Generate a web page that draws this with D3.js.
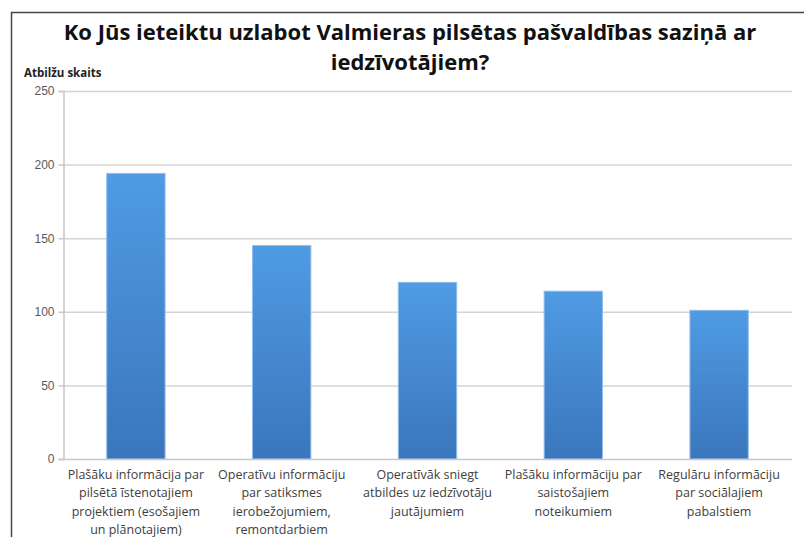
<!DOCTYPE html>
<html>
<head>
<meta charset="utf-8">
<script src="https://cdn.jsdelivr.net/npm/d3@7"></script>
<style>
  body { margin: 0; background: #fff; }
  svg { display: block; font-family: "Open Sans", "Noto Sans", sans-serif; }
</style>
</head>
<body>
<svg id="chart" width="804" height="537"></svg>
<script>
// dati
const categories = [
    ["Plašāku informācija par", "pilsētā īstenotajiem", "projektiem (esošajiem", "un plānotajiem)"],
    ["Operatīvu informāciju", "par satiksmes", "ierobežojumiem,", "remontdarbiem"],
    ["Operatīvāk sniegt", "atbildes uz iedzīvotāju", "jautājumiem"],
    ["Plašāku informāciju par", "saistošajiem", "noteikumiem"],
    ["Regulāru informāciju", "par sociālajiem", "pabalstiem"]
];
const values = [194, 145, 120, 114, 101];
const yTicks = [0, 50, 100, 150, 200, 250];
const titleLines = ["Ko Jūs ieteiktu uzlabot Valmieras pilsētas pašvaldības saziņā ar", "iedzīvotājiem?"];
const yTitle = "Atbilžu skaits";

const svg = d3.select("#chart");
const plotLeft = 63, plotRight = 792, plotTop = 91, plotBottom = 459;

// rāmis
svg.append("path")
    .attr("d", `M11.5,537 V12.5 H804`)
    .attr("fill", "none")
    .attr("stroke", "#444")
    .attr("stroke-width", 1.5);

const x = d3.scaleBand()
    .domain(d3.range(values.length))
    .range([plotLeft, plotRight])
    .paddingInner(0.6)
    .paddingOuter(0.3);

const y = d3.scaleLinear()
    .domain([0, 250])
    .range([plotBottom, plotTop]);

// gradients stabiņiem
const grad = svg.append("defs").append("linearGradient")
    .attr("id", "barGrad")
    .attr("x1", 0).attr("y1", 0).attr("x2", 0).attr("y2", 1);
grad.append("stop").attr("offset", "0%").attr("stop-color", "#4f9be4");
grad.append("stop").attr("offset", "100%").attr("stop-color", "#3b76bc");

// režģa līnijas
svg.append("g")
    .selectAll("line")
    .data(yTicks.filter(d => d > 0))
    .join("line")
    .attr("x1", plotLeft).attr("x2", plotRight)
    .attr("y1", d => y(d) + 0.5).attr("y2", d => y(d) + 0.5)
    .attr("stroke", "#d4d4d4")
    .attr("stroke-width", 1.5);

// y ass
const yAxis = svg.append("g")
    .attr("transform", `translate(${plotLeft + 0.5},0)`)
    .call(d3.axisLeft(y).tickValues(yTicks).tickSize(5).tickPadding(4));
yAxis.select(".domain").attr("stroke", "#c8c8c8").attr("stroke-width", 1.5);
yAxis.selectAll(".tick line").attr("stroke", "#c8c8c8").attr("stroke-width", 1.5);
yAxis.selectAll(".tick text")
    .attr("fill", "#595959")
    .style("font-size", "12px");

// stabiņi
svg.append("g")
    .selectAll("rect")
    .data(values)
    .join("rect")
    .attr("x", (d, i) => x(i))
    .attr("y", d => y(d))
    .attr("width", x.bandwidth())
    .attr("height", d => y(0) - y(d))
    .attr("fill", "url(#barGrad)")
    .attr("stroke", "#8fbcec")
    .attr("stroke-width", 1);

// x ass
svg.append("line")
    .attr("x1", plotLeft).attr("x2", plotRight)
    .attr("y1", plotBottom + 0.5).attr("y2", plotBottom + 0.5)
    .attr("stroke", "#c8c8c8")
    .attr("stroke-width", 1.5);

// kategoriju nosaukumi
const labels = svg.append("g")
    .selectAll("text")
    .data(categories)
    .join("text")
    .attr("text-anchor", "middle")
    .attr("fill", "#404040")
    .style("font-size", "12.5px");
labels.selectAll("tspan")
    .data((d, i) => d.map(t => ({ t, i })))
    .join("tspan")
    .attr("x", d => x(d.i) + x.bandwidth() / 2)
    .attr("y", (d, j) => 479 + j * 18.3)
    .text(d => d.t);

// virsraksts
svg.append("g")
    .selectAll("text")
    .data(titleLines)
    .join("text")
    .attr("x", 410)
    .attr("y", (d, i) => 40 + i * 30)
    .attr("text-anchor", "middle")
    .attr("font-weight", "bold")
    .attr("fill", "#111")
    .style("font-size", "22px")
    .text(d => d);

// y ass nosaukums
svg.append("text")
    .attr("x", 24)
    .attr("y", 77)
    .attr("font-weight", "bold")
    .attr("fill", "#222")
    .style("font-size", "11.5px")
    .text(yTitle);
</script>
</body>
</html>
